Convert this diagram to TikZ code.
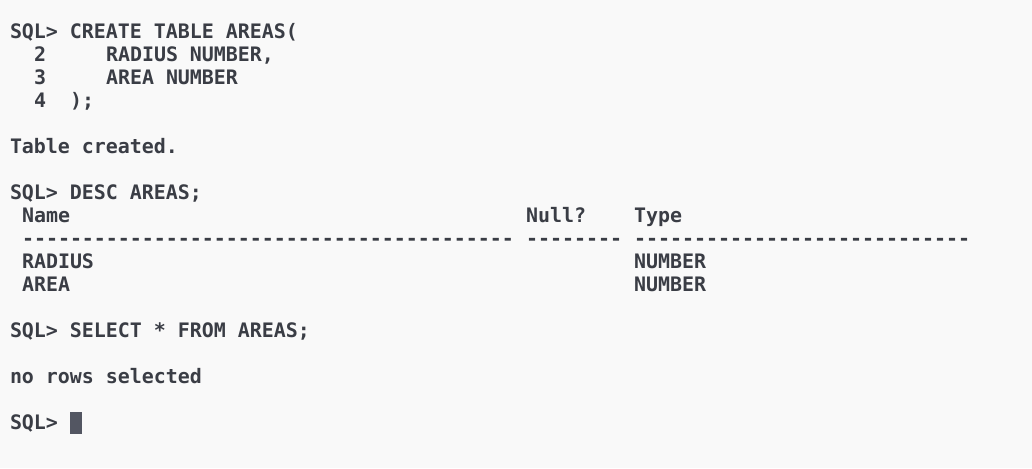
\documentclass[tikz,border=0pt]{standalone}
\usepackage{fontspec}
\setmonofont{DejaVu Sans Mono}[BoldFont={DejaVu Sans Mono Bold}]
\definecolor{termbg}{HTML}{F9F9F9}
\definecolor{termfg}{HTML}{3A3D45}
\definecolor{cursorc}{HTML}{535662}
\begin{document}
\begin{tikzpicture}[x=0.75pt,y=-0.75pt,
  txt/.style={anchor=base west,inner sep=0pt,outer sep=0pt,
    font=\ttfamily\bfseries\fontsize{14.95}{18}\selectfont,text=termfg}]
\fill[termbg] (0,0) rectangle (1032,468);
\useasboundingbox (0,0) rectangle (1032,468);
% create table
\node[txt] (l1) at (10,38) {SQL> CREATE TABLE AREAS(};
\node[txt] (n2) at (34,61) {2};
\node[txt] (l2) at (106,61) {RADIUS NUMBER,};
\node[txt] (n3) at (34,84) {3};
\node[txt] (l3) at (106,84) {AREA NUMBER};
\node[txt] (n4) at (34,107) {4};
\node[txt] (l4) at (70,107) {);};
\node[txt] (l6) at (10,153) {Table created.};
% desc
\node[txt] (l8) at (10,199) {SQL> DESC AREAS;};
\node[txt] (hname) at (22,222) {Name};
\node[txt] (hnull) at (526,222) {Null?};
\node[txt] (htype) at (634,222) {Type};
\node[txt] (dname) at (22,245) {-----------------------------------------};
\node[txt] (dnull) at (526,245) {--------};
\node[txt] (dtype) at (634,245) {----------------------------};
\node[txt] (r1n) at (22,268) {RADIUS};
\node[txt] (r1t) at (634,268) {NUMBER};
\node[txt] (r2n) at (22,291) {AREA};
\node[txt] (r2t) at (634,291) {NUMBER};
% select
\node[txt] (l14) at (10,337) {SQL> SELECT * FROM AREAS;};
\node[txt] (l16) at (10,383) {no rows selected};
\node[txt] (l18) at (10,429) {SQL>};
\fill[cursorc] (70,412) rectangle (82,434);
\end{tikzpicture}
\end{document}
